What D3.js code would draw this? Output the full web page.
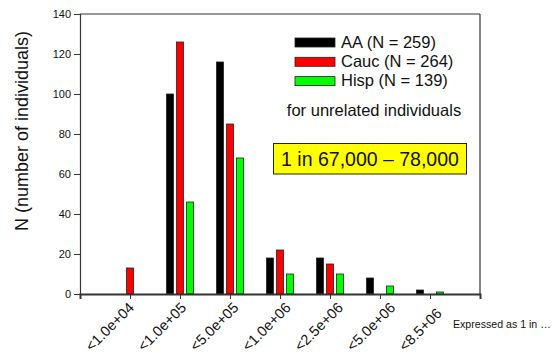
<!DOCTYPE html>
<html>
<head>
<meta charset="utf-8">
<script src="https://cdn.jsdelivr.net/npm/d3@7"></script>
<style>
  body { margin: 0; background: #fff; }
  svg text { font-family: "Liberation Sans", Arial, sans-serif; fill: #111; }
</style>
</head>
<body>
<div id="chart"></div>
<script>
const w = 560,
    h = 354;

// data
const categories = ["<1.0e+04", "<1.0e+05", "<5.0e+05", "<1.0e+06", "<2.5e+06", "<5.0e+06", "<8.5+06"];
const aaValues = [0, 100, 116, 18, 18, 8, 2];
const caucValues = [13, 126, 85, 22, 15, 0, 0];
const hispValues = [0, 46, 68, 10, 10, 4, 1];
const seriesNames = ["AA (N = 259)", "Cauc (N = 264)", "Hisp (N = 139)"];
const seriesColors = ["#000000", "#ff0000", "#00ff00"];
const yTicks = [0, 20, 40, 60, 80, 100, 120, 140];

const series = [aaValues, caucValues, hispValues];

const svg = d3.select("#chart")
    .append("svg")
    .attr("width", w)
    .attr("height", h);

const plotL = 80, plotR = 480, plotT = 14, plotB = 294;

// categories sit on positions 1..7 of a 0..8 axis
const xScale = d3.scaleLinear()
    .domain([0, categories.length + 1])
    .range([plotL, plotR]);

const inner = d3.scaleBand()
    .domain(d3.range(series.length))
    .range([-15, 15])
    .paddingInner(0.3)
    .paddingOuter(0.15);

const yScale = d3.scaleLinear()
    .domain([0, 140])
    .range([plotB, plotT]);

// the slanted labels drift a bit wider than the ticks in the original
const labelScale = d3.scaleLinear()
    .domain([0, categories.length - 1])
    .range([91.5, 405]);

// bars
const bars = [];
series.forEach(function (vals, s) {
    vals.forEach(function (v, i) {
        if (v > 0) bars.push({ s: s, i: i, v: v });
    });
});

svg.selectAll("rect.bar")
    .data(bars)
    .enter()
    .append("rect")
    .attr("class", "bar")
    .attr("x", function (d) { return xScale(d.i + 1) + inner(d.s); })
    .attr("y", function (d) { return yScale(d.v); })
    .attr("width", inner.bandwidth())
    .attr("height", function (d) { return plotB - yScale(d.v); })
    .style("fill", function (d) { return seriesColors[d.s]; })
    .style("stroke", "#222")
    .style("stroke-width", 0.8);

// frame
svg.append("line")
    .attr("x1", plotL).attr("x2", plotR).attr("y1", plotT).attr("y2", plotT)
    .style("stroke", "#333").style("stroke-width", 1.2);
svg.append("line")
    .attr("x1", plotR).attr("x2", plotR).attr("y1", plotT).attr("y2", plotB)
    .style("stroke", "#333").style("stroke-width", 1.2);

// y axis
const yAxis = svg.append("g")
    .attr("transform", "translate(" + plotL + ",0)")
    .call(d3.axisLeft(yScale).tickValues(yTicks).tickSize(6).tickPadding(3));
yAxis.select(".domain").style("stroke", "#333").style("stroke-width", 1.2);
yAxis.selectAll(".tick line").style("stroke", "#333");
yAxis.selectAll("text")
    .style("font-size", "11px")
    .style("font-family", "Liberation Sans, Arial, sans-serif")
    .style("fill", "#111");

// x axis
const xAxis = svg.append("g")
    .attr("transform", "translate(0," + plotB + ")")
    .call(d3.axisBottom(xScale).tickValues(d3.range(0, categories.length + 2)).tickSize(5).tickFormat(""));
xAxis.select(".domain").style("stroke", "#333").style("stroke-width", 2);
xAxis.selectAll(".tick line").style("stroke", "#333");

svg.selectAll("text.xlab")
    .data(categories)
    .enter()
    .append("text")
    .attr("class", "xlab")
    .attr("transform", function (d, i) {
        return "translate(" + labelScale(i) + ",352) rotate(-45)";
    })
    .attr("text-anchor", "start")
    .style("font-size", "14.5px")
    .text(function (d) { return d; });

svg.append("text")
    .attr("x", 453)
    .attr("y", 327.5)
    .style("font-size", "10.6px")
    .text("Expressed as 1 in \u2026");

// y title
svg.append("text")
    .attr("transform", "translate(28,131) rotate(-90)")
    .attr("text-anchor", "middle")
    .style("font-size", "18px")
    .text("N (number of individuals)");

// legend
const legend = svg.selectAll("g.legend")
    .data(seriesNames)
    .enter()
    .append("g")
    .attr("class", "legend")
    .attr("transform", function (d, i) { return "translate(295," + (38 + i * 19.3) + ")"; });

legend.append("rect")
    .attr("width", 40)
    .attr("height", 9)
    .style("fill", function (d, i) { return seriesColors[i]; })
    .style("stroke", "#222")
    .style("stroke-width", 0.8);

legend.append("text")
    .attr("x", 46)
    .attr("y", 9.5)
    .style("font-size", "16.5px")
    .text(function (d) { return d; });

svg.append("text")
    .attr("x", 374)
    .attr("y", 115.7)
    .attr("text-anchor", "middle")
    .style("font-size", "16.5px")
    .text("for unrelated individuals");

svg.append("rect")
    .attr("x", 273.5)
    .attr("y", 143.5)
    .attr("width", 193)
    .attr("height", 30.5)
    .style("fill", "#ffff00")
    .style("stroke", "#222")
    .style("stroke-width", 1);

svg.append("text")
    .attr("x", 370)
    .attr("y", 166)
    .attr("text-anchor", "middle")
    .style("font-size", "19.5px")
    .text("1 in 67,000 \u2013 78,000");
</script>
</body>
</html>
